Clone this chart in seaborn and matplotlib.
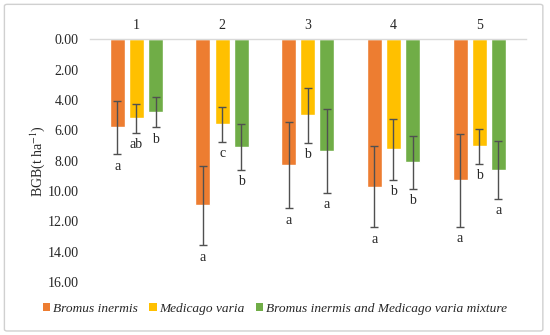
import numpy as np
import pandas as pd
import matplotlib
matplotlib.use("Agg")
import matplotlib.pyplot as plt
import seaborn as sns
from matplotlib.patches import FancyBboxPatch, Patch

groups = ["1", "2", "3", "4", "5"]
series = ["Bromus inermis", "Medicago varia", "Bromus inermis and Medicago varia mixture"]
bromus = [5.8, 10.95, 8.3, 9.7, 9.3]
medicago = [5.2, 5.6, 5.0, 7.25, 7.05]
mixture = [4.8, 7.1, 7.35, 8.1, 8.6]
bromus_err = [1.75, 2.6, 2.85, 2.7, 3.05]
medicago_err = [0.95, 1.15, 1.8, 2.0, 1.15]
mixture_err = [1.0, 1.5, 2.75, 1.75, 1.9]
bromus_lab = ["a", "a", "a", "a", "a"]
medicago_lab = ["ab", "c", "b", "b", "b"]
mixture_lab = ["b", "b", "a", "b", "a"]
colors = ["#ED7D31", "#FFC000", "#70AD47"]

sns.set_theme(style="white")
plt.rcParams["font.family"] = ["Liberation Serif", "DejaVu Serif"]
plt.rcParams["mathtext.fontset"] = "stix"

df = pd.DataFrame({
    "group": groups * 3,
    "series": sum([[s] * 5 for s in series], []),
    "value": bromus + medicago + mixture,
})

fig = plt.figure(figsize=(5.5, 3.35), dpi=100)
ax = fig.add_axes([0.1636, 0.158, 0.792, 0.7245])

sns.barplot(data=df, x="group", y="value", hue="series", hue_order=series,
            order=groups, palette=colors, width=0.67, gap=0.22,
            saturation=1, legend=False, ax=ax, errorbar=None)

errs = [bromus_err, medicago_err, mixture_err]
vals = [bromus, medicago, mixture]
labs = [bromus_lab, medicago_lab, mixture_lab]
bar_conts = list(ax.containers)
for ci, cont in enumerate(bar_conts):
    xs = [p.get_x() + p.get_width() / 2 for p in cont.patches]
    ax.errorbar(xs, vals[ci], yerr=errs[ci], fmt="none", ecolor="#505050",
                elinewidth=1, capsize=3, capthick=1, zorder=5)
    for x, v, e, t in zip(xs, vals[ci], errs[ci], labs[ci]):
        ax.text(x, v + e + 0.8, t, ha="center", va="center", fontsize=10)

ax.set_ylim(16, 0)
ax.set_yticks(np.arange(0, 17, 2))
ax.set_yticklabels([f"{v:.2f}" for v in np.arange(0, 17, 2)], fontsize=10)
ax.xaxis.tick_top()
ax.tick_params(axis="x", length=0, labelsize=10, pad=5)
ax.tick_params(axis="y", length=0, pad=8)
ax.set_xlabel("")
ax.set_ylabel("BGB(t ha$^{-1}$)", fontsize=10, labelpad=0.5)
for s in ["left", "right", "bottom"]:
    ax.spines[s].set_visible(False)
ax.spines["top"].set_color("#D9D9D9")
ax.spines["top"].set_linewidth(1)

handles = [Patch(facecolor=c, edgecolor="none") for c in colors]
fig.legend(handles, series, loc="center", bbox_to_anchor=(0.5, 0.078), ncol=3,
           frameon=False, prop={"style": "italic", "size": 9.6},
           handlelength=0.55, handleheight=0.55, handletextpad=0.2, columnspacing=0.85)

frame = FancyBboxPatch((0.008, 0.012), 0.979, 0.975, boxstyle="round,pad=0,rounding_size=0.005",
                       transform=fig.transFigure, facecolor="none", edgecolor="#D0D0D0", lw=1)
fig.patches.append(frame)

fig.savefig("out.png", dpi=100)
